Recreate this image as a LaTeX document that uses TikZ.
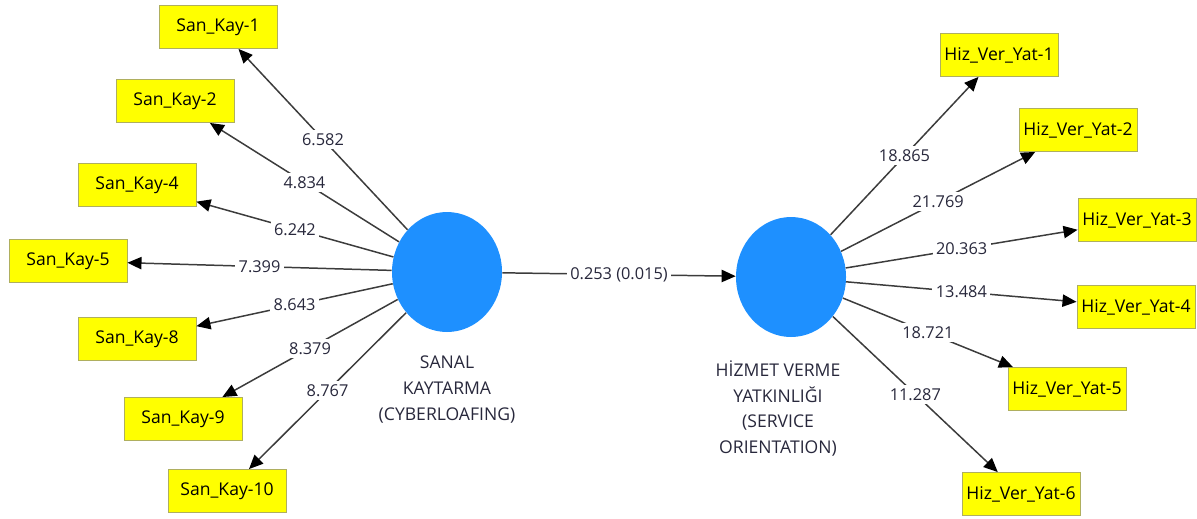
\documentclass[tikz,border=0pt]{standalone}
\usepackage{fontspec}
\setmainfont{Open Sans}
\usetikzlibrary{positioning}
\usetikzlibrary{arrows.meta}
\usetikzlibrary{shapes.geometric}
\usepackage{xcolor}
\definecolor{latentblue}{RGB}{30,144,255}
\definecolor{boxyellow}{RGB}{255,255,0}
\definecolor{boxedge}{RGB}{175,175,95}
\definecolor{pathgray}{RGB}{60,60,60}
\definecolor{numtext}{RGB}{40,40,60}

\begin{document}
\begin{tikzpicture}[node distance=2cm,on grid,
    latent/.style={ellipse,fill=latentblue,minimum width=2.2cm,minimum height=2.4cm,inner sep=0pt},
    indicator/.style={rectangle,fill=boxyellow,draw=boxedge,line width=0.5pt,minimum width=2.36cm,minimum height=0.86cm,inner sep=0pt,font=\fontsize{10}{12}\selectfont},
    caption/.style={align=center,text=numtext,font=\fontsize{10}{14.7}\selectfont},
    weight/.style={auto=false,fill=white,inner sep=2pt,text=numtext,font=\fontsize{9.3}{11}\selectfont},
    loading/.style={draw=pathgray,line width=0.85pt,-{Triangle[length=8pt,width=7pt,color=black]}}]
   \useasboundingbox (0,0) rectangle (23.94,-10.36);
   \node[latent] (sk) at (8.94,-5.44) {};
   \node[latent] (hv) [below right=0.1cm and 6.88cm of sk] {};
   \node[caption] (skname) [below=2.35cm of sk] {SANAL\\KAYTARMA\\(CYBERLOAFING)};
   \node[caption] (hvname) [below left=2.63cm and 0.26cm of hv] {HİZMET VERME\\YATKINLIĞI\\(SERVICE\\ORIENTATION)};
   % san_kay indicators
   \node[indicator] (sk1) [above left=4.90cm and 4.58cm of sk] {San\_Kay-1};
   \node[indicator] (sk2) [above left=3.42cm and 5.44cm of sk] {San\_Kay-2};
   \node[indicator] (sk4) [above left=1.74cm and 6.20cm of sk] {San\_Kay-4};
   \node[indicator] (sk5) [above left=0.22cm and 7.58cm of sk] {San\_Kay-5};
   \node[indicator] (sk8) [below left=1.34cm and 6.20cm of sk] {San\_Kay-8};
   \node[indicator] (sk9) [below left=2.94cm and 5.28cm of sk] {San\_Kay-9};
   \node[indicator] (sk10) [below left=4.38cm and 4.40cm of sk] {San\_Kay-10};
   % hiz_ver_yat indicators
   \node[indicator] (hv1) [above right=4.44cm and 4.16cm of hv] {Hiz\_Ver\_Yat-1};
   \node[indicator] (hv2) [above right=2.94cm and 5.74cm of hv] {Hiz\_Ver\_Yat-2};
   \node[indicator] (hv3) [above right=1.14cm and 6.92cm of hv] {Hiz\_Ver\_Yat-3};
   \node[indicator] (hv4) [below right=0.60cm and 6.90cm of hv] {Hiz\_Ver\_Yat-4};
   \node[indicator] (hv5) [below right=2.24cm and 5.52cm of hv] {Hiz\_Ver\_Yat-5};
   \node[indicator] (hv6) [below right=4.34cm and 4.60cm of hv] {Hiz\_Ver\_Yat-6};
    \path[loading]
    (sk) edge node[weight] {6.582} (sk1)
    (sk) edge node[weight] {4.834} (sk2)
    (sk) edge node[weight] {6.242} (sk4)
    (sk) edge node[weight] {7.399} (sk5)
    (sk) edge node[weight] {8.643} (sk8)
    (sk) edge node[weight] {8.379} (sk9)
    (sk) edge node[weight] {8.767} (sk10)
    (sk) edge node[weight] {0.253 (0.015)} (hv)
    (hv) edge node[weight] {18.865} (hv1)
    (hv) edge node[weight] {21.769} (hv2)
    (hv) edge node[weight] {20.363} (hv3)
    (hv) edge node[weight] {13.484} (hv4)
    (hv) edge node[weight] {18.721} (hv5)
    (hv) edge node[weight] {11.287} (hv6);
\end{tikzpicture}
\end{document}
